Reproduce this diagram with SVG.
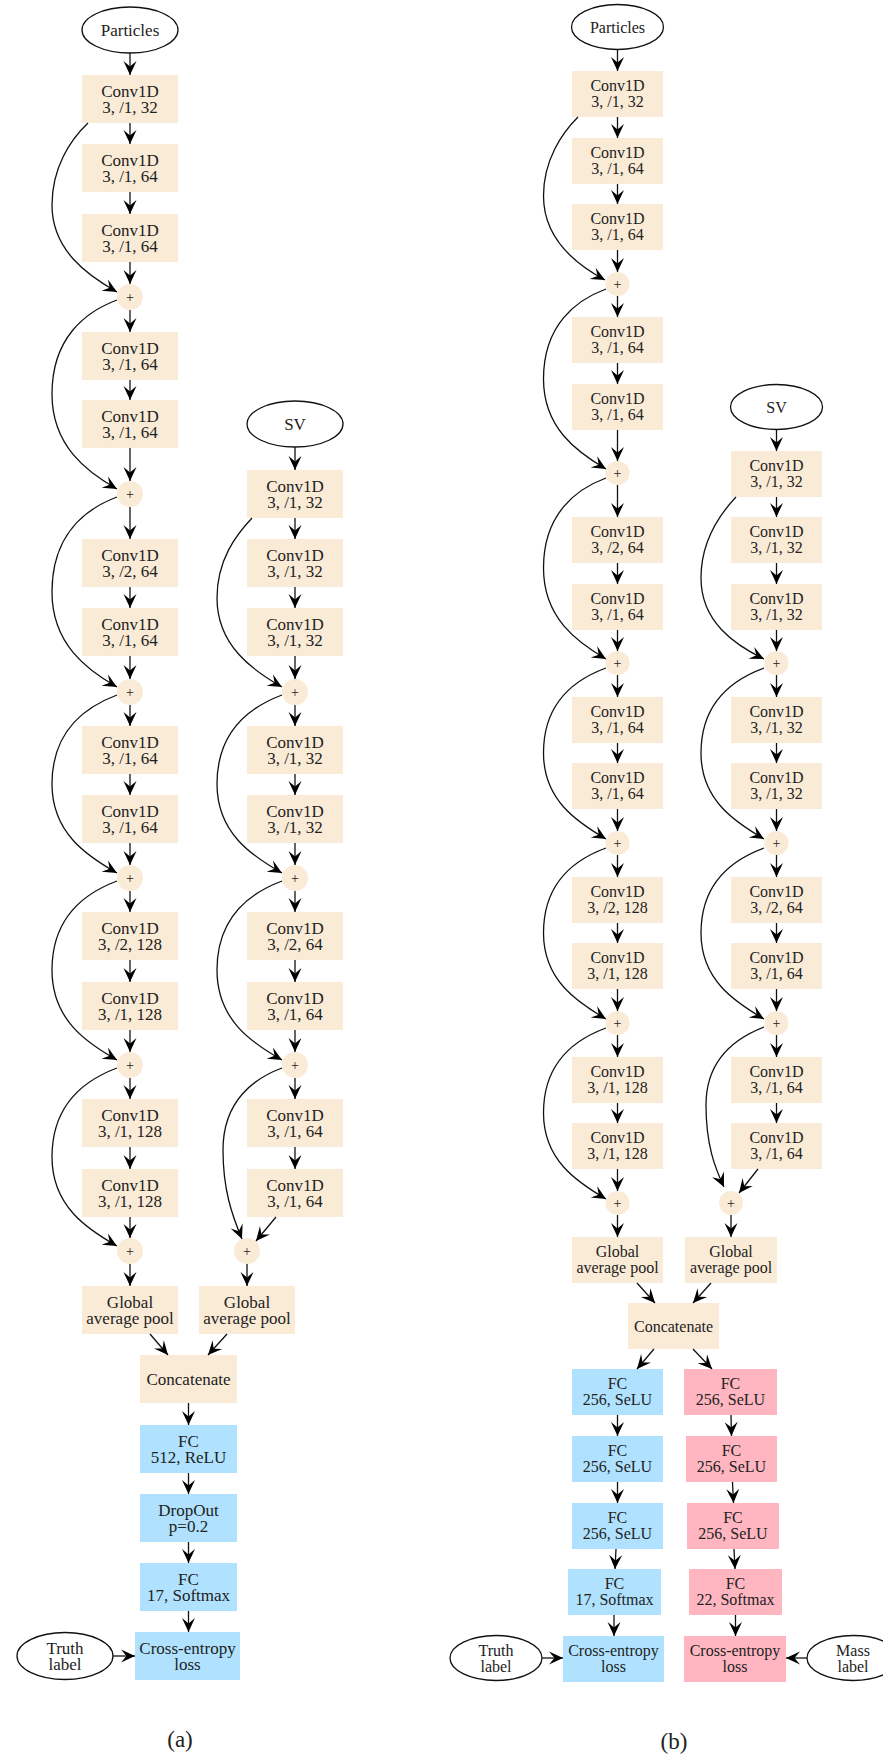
<svg xmlns="http://www.w3.org/2000/svg" width="883" height="1756" viewBox="0 0 883 1756">
<style>
  .bx{fill:#FAEBD7}
  .bl{fill:#B0E2FF}
  .pk{fill:#FFB6C1}
  .el{fill:#fff;stroke:#111;stroke-width:1.3}
  text{font-family:"Liberation Serif","Times New Roman",serif;fill:#222;text-anchor:middle}
  .a text{font-size:17px}
  .b text{font-size:16px}
  text.pl{font-size:14px}
  .e path{fill:none;stroke:#111;stroke-width:1.3;marker-end:url(#vee)}
  .cap{font-size:23px}
</style>
<defs>
  <marker id="vee" markerUnits="userSpaceOnUse" markerWidth="16" markerHeight="16" viewBox="-15 -8 16 16" refX="0" refY="0" orient="auto">
    <path d="M0,0 L-14,-6.5 L-8.5,0 L-14,6.5 Z" fill="#000"/>
  </marker>
</defs>
<rect width="883" height="1756" fill="#fff"/>

<!-- ===== panel (a) ===== -->
<g class="a">
  <g id="a_particles"><ellipse class="el" cx="130" cy="30" rx="48" ry="23"/><text x="130" y="36">Particles</text></g>
  <g id="a_c1"><rect class="bx" x="82" y="75" width="96" height="48"/><text x="130" y="96.5">Conv1D</text><text x="130" y="113">3, /1, 32</text></g>
  <g id="a_c2"><rect class="bx" x="82" y="144" width="96" height="48"/><text x="130" y="165.5">Conv1D</text><text x="130" y="182">3, /1, 64</text></g>
  <g id="a_c3"><rect class="bx" x="82" y="214" width="96" height="48"/><text x="130" y="235.5">Conv1D</text><text x="130" y="252">3, /1, 64</text></g>
  <g id="a_s1"><circle class="bx" cx="130" cy="297" r="13"/><text class="pl" x="130" y="301.5">+</text></g>
  <g id="a_c4"><rect class="bx" x="82" y="332" width="96" height="48"/><text x="130" y="353.5">Conv1D</text><text x="130" y="370">3, /1, 64</text></g>
  <g id="a_c5"><rect class="bx" x="82" y="400" width="96" height="48"/><text x="130" y="421.5">Conv1D</text><text x="130" y="438">3, /1, 64</text></g>
  <g id="a_s2"><circle class="bx" cx="130" cy="494" r="13"/><text class="pl" x="130" y="498.5">+</text></g>
  <g id="a_c6"><rect class="bx" x="82" y="539" width="96" height="48"/><text x="130" y="560.5">Conv1D</text><text x="130" y="577">3, /2, 64</text></g>
  <g id="a_c7"><rect class="bx" x="82" y="608" width="96" height="48"/><text x="130" y="629.5">Conv1D</text><text x="130" y="646">3, /1, 64</text></g>
  <g id="a_s3"><circle class="bx" cx="130" cy="692" r="13"/><text class="pl" x="130" y="696.5">+</text></g>
  <g id="a_c8"><rect class="bx" x="82" y="726" width="96" height="48"/><text x="130" y="747.5">Conv1D</text><text x="130" y="764">3, /1, 64</text></g>
  <g id="a_c9"><rect class="bx" x="82" y="795" width="96" height="48"/><text x="130" y="816.5">Conv1D</text><text x="130" y="833">3, /1, 64</text></g>
  <g id="a_s4"><circle class="bx" cx="130" cy="878" r="13"/><text class="pl" x="130" y="882.5">+</text></g>
  <g id="a_c10"><rect class="bx" x="82" y="912" width="96" height="48"/><text x="130" y="933.5">Conv1D</text><text x="130" y="950">3, /2, 128</text></g>
  <g id="a_c11"><rect class="bx" x="82" y="982" width="96" height="48"/><text x="130" y="1003.5">Conv1D</text><text x="130" y="1020">3, /1, 128</text></g>
  <g id="a_s5"><circle class="bx" cx="130" cy="1065" r="13"/><text class="pl" x="130" y="1069.5">+</text></g>
  <g id="a_c12"><rect class="bx" x="82" y="1099" width="96" height="48"/><text x="130" y="1120.5">Conv1D</text><text x="130" y="1137">3, /1, 128</text></g>
  <g id="a_c13"><rect class="bx" x="82" y="1169" width="96" height="48"/><text x="130" y="1190.5">Conv1D</text><text x="130" y="1207">3, /1, 128</text></g>
  <g id="a_s6"><circle class="bx" cx="130" cy="1251" r="13"/><text class="pl" x="130" y="1255.5">+</text></g>
  <g id="a_gap1"><rect class="bx" x="82" y="1286" width="96" height="48"/><text x="130" y="1307.5">Global</text><text x="130" y="1324">average pool</text></g>

  <g id="a_sv"><ellipse class="el" cx="295" cy="424" rx="48" ry="23"/><text x="295" y="430">SV</text></g>
  <g id="a_v1"><rect class="bx" x="247" y="470" width="96" height="48"/><text x="295" y="491.5">Conv1D</text><text x="295" y="508">3, /1, 32</text></g>
  <g id="a_v2"><rect class="bx" x="247" y="539" width="96" height="48"/><text x="295" y="560.5">Conv1D</text><text x="295" y="577">3, /1, 32</text></g>
  <g id="a_v3"><rect class="bx" x="247" y="608" width="96" height="48"/><text x="295" y="629.5">Conv1D</text><text x="295" y="646">3, /1, 32</text></g>
  <g id="a_t1"><circle class="bx" cx="295" cy="692" r="13"/><text class="pl" x="295" y="696.5">+</text></g>
  <g id="a_v4"><rect class="bx" x="247" y="726" width="96" height="48"/><text x="295" y="747.5">Conv1D</text><text x="295" y="764">3, /1, 32</text></g>
  <g id="a_v5"><rect class="bx" x="247" y="795" width="96" height="48"/><text x="295" y="816.5">Conv1D</text><text x="295" y="833">3, /1, 32</text></g>
  <g id="a_t2"><circle class="bx" cx="295" cy="878" r="13"/><text class="pl" x="295" y="882.5">+</text></g>
  <g id="a_v6"><rect class="bx" x="247" y="912" width="96" height="48"/><text x="295" y="933.5">Conv1D</text><text x="295" y="950">3, /2, 64</text></g>
  <g id="a_v7"><rect class="bx" x="247" y="982" width="96" height="48"/><text x="295" y="1003.5">Conv1D</text><text x="295" y="1020">3, /1, 64</text></g>
  <g id="a_t3"><circle class="bx" cx="295" cy="1065" r="13"/><text class="pl" x="295" y="1069.5">+</text></g>
  <g id="a_v8"><rect class="bx" x="247" y="1099" width="96" height="48"/><text x="295" y="1120.5">Conv1D</text><text x="295" y="1137">3, /1, 64</text></g>
  <g id="a_v9"><rect class="bx" x="247" y="1169" width="96" height="48"/><text x="295" y="1190.5">Conv1D</text><text x="295" y="1207">3, /1, 64</text></g>
  <g id="a_t4"><circle class="bx" cx="247" cy="1251" r="13"/><text class="pl" x="247" y="1255.5">+</text></g>
  <g id="a_gap2"><rect class="bx" x="199" y="1286" width="96" height="48"/><text x="247" y="1307.5">Global</text><text x="247" y="1324">average pool</text></g>

  <g id="a_concat"><rect class="bx" x="140" y="1355" width="97" height="48"/><text x="188.5" y="1385">Concatenate</text></g>
  <g id="a_fc1"><rect class="bl" x="140" y="1425" width="97" height="48"/><text x="188.5" y="1446.5">FC</text><text x="188.5" y="1463">512, ReLU</text></g>
  <g id="a_drop"><rect class="bl" x="140" y="1494" width="97" height="48"/><text x="188.5" y="1515.5">DropOut</text><text x="188.5" y="1532">p=0.2</text></g>
  <g id="a_fc2"><rect class="bl" x="140" y="1563" width="97" height="48"/><text x="188.5" y="1584.5">FC</text><text x="188.5" y="1601">17, Softmax</text></g>
  <g id="a_loss"><rect class="bl" x="135" y="1632" width="105" height="48"/><text x="187.5" y="1653.5">Cross-entropy</text><text x="187.5" y="1670">loss</text></g>
  <g id="a_truth"><ellipse class="el" cx="65" cy="1656" rx="48" ry="23.5"/><text x="65" y="1653.5">Truth</text><text x="65" y="1670">label</text></g>
</g>

<g id="a_edges" class="e">
  <path d="M130,53V75"/><path d="M130,123V144"/><path d="M130,192V214"/><path d="M130,262V284"/><path d="M130,310V332"/>
  <path d="M130,380V400"/><path d="M130,448V481"/><path d="M130,507V539"/><path d="M130,587V608"/><path d="M130,656V679"/>
  <path d="M130,705V726"/><path d="M130,774V795"/><path d="M130,843V865"/><path d="M130,891V912"/><path d="M130,960V982"/>
  <path d="M130,1030V1052"/><path d="M130,1078V1099"/><path d="M130,1147V1169"/><path d="M130,1217V1238"/><path d="M130,1264V1286"/>
  <path d="M150,1334L168,1355"/><path d="M227,1334L208,1355"/>
  <path d="M188.5,1403V1425"/><path d="M188.5,1473V1494"/><path d="M188.5,1542V1563"/><path d="M188.5,1611V1632"/>
  <path d="M113,1656H135"/>
  <path d="M295,447V470"/><path d="M295,518V539"/><path d="M295,587V608"/><path d="M295,656V679"/><path d="M295,705V726"/><path d="M295,774V795"/><path d="M295,843V865"/><path d="M295,891V912"/><path d="M295,960V982"/><path d="M295,1030V1052"/><path d="M295,1078V1099"/><path d="M295,1147V1169"/>
  <path d="M276,1217L256,1241"/><path d="M247,1264V1286"/>
  <!-- skip connections -->
  <path d="M88,123C70,140 52,168 52,205C52,250 87,275 117,292"/>
  <path d="M117,300C85,312 52,338 52,394C52,446 87,472 117,489"/>
  <path d="M117,497C85,509 52,535 52,592C52,644 87,670 117,687"/>
  <path d="M117,695C85,707 52,731 52,784C52,833 87,856 117,873"/>
  <path d="M117,881C85,893 52,917 52,970C52,1020 87,1043 117,1060"/>
  <path d="M117,1068C85,1080 52,1104 52,1157C52,1206 87,1229 117,1246"/>
  <path d="M252,518C236,535 217,560 217,598C217,645 252,670 282,687"/>
  <path d="M282,695C250,707 217,731 217,784C217,833 252,856 282,873"/>
  <path d="M282,881C250,893 217,917 217,970C217,1020 252,1043 282,1060"/>
  <path d="M282,1068C255,1078 223,1100 223,1150C223,1190 232,1215 242,1239"/>
</g>
<text class="cap" x="180" y="1747">(a)</text>

<!-- ===== panel (b) ===== -->
<g class="b">
  <g id="b_particles"><ellipse class="el" cx="617.5" cy="27" rx="46" ry="22.5"/><text x="617.5" y="32.5">Particles</text></g>
  <g id="b_c1"><rect class="bx" x="572" y="71" width="91" height="46"/><text x="617.5" y="91">Conv1D</text><text x="617.5" y="107">3, /1, 32</text></g>
  <g id="b_c2"><rect class="bx" x="572" y="138" width="91" height="46"/><text x="617.5" y="158">Conv1D</text><text x="617.5" y="174">3, /1, 64</text></g>
  <g id="b_c3"><rect class="bx" x="572" y="204" width="91" height="46"/><text x="617.5" y="224">Conv1D</text><text x="617.5" y="240">3, /1, 64</text></g>
  <g id="b_s1"><circle class="bx" cx="617.5" cy="284" r="12"/><text class="pl" x="617.5" y="288.5">+</text></g>
  <g id="b_c4"><rect class="bx" x="572" y="317" width="91" height="46"/><text x="617.5" y="337">Conv1D</text><text x="617.5" y="353">3, /1, 64</text></g>
  <g id="b_c5"><rect class="bx" x="572" y="384" width="91" height="46"/><text x="617.5" y="404">Conv1D</text><text x="617.5" y="420">3, /1, 64</text></g>
  <g id="b_s2"><circle class="bx" cx="617.5" cy="473" r="12"/><text class="pl" x="617.5" y="477.5">+</text></g>
  <g id="b_c6"><rect class="bx" x="572" y="517" width="91" height="46"/><text x="617.5" y="537">Conv1D</text><text x="617.5" y="553">3, /2, 64</text></g>
  <g id="b_c7"><rect class="bx" x="572" y="584" width="91" height="46"/><text x="617.5" y="604">Conv1D</text><text x="617.5" y="620">3, /1, 64</text></g>
  <g id="b_s3"><circle class="bx" cx="617.5" cy="663" r="12"/><text class="pl" x="617.5" y="667.5">+</text></g>
  <g id="b_c8"><rect class="bx" x="572" y="697" width="91" height="46"/><text x="617.5" y="717">Conv1D</text><text x="617.5" y="733">3, /1, 64</text></g>
  <g id="b_c9"><rect class="bx" x="572" y="763" width="91" height="46"/><text x="617.5" y="783">Conv1D</text><text x="617.5" y="799">3, /1, 64</text></g>
  <g id="b_s4"><circle class="bx" cx="617.5" cy="843" r="12"/><text class="pl" x="617.5" y="847.5">+</text></g>
  <g id="b_c10"><rect class="bx" x="572" y="877" width="91" height="46"/><text x="617.5" y="897">Conv1D</text><text x="617.5" y="913">3, /2, 128</text></g>
  <g id="b_c11"><rect class="bx" x="572" y="943" width="91" height="46"/><text x="617.5" y="963">Conv1D</text><text x="617.5" y="979">3, /1, 128</text></g>
  <g id="b_s5"><circle class="bx" cx="617.5" cy="1023" r="12"/><text class="pl" x="617.5" y="1027.5">+</text></g>
  <g id="b_c12"><rect class="bx" x="572" y="1057" width="91" height="46"/><text x="617.5" y="1077">Conv1D</text><text x="617.5" y="1093">3, /1, 128</text></g>
  <g id="b_c13"><rect class="bx" x="572" y="1123" width="91" height="46"/><text x="617.5" y="1143">Conv1D</text><text x="617.5" y="1159">3, /1, 128</text></g>
  <g id="b_s6"><circle class="bx" cx="617.5" cy="1203" r="12"/><text class="pl" x="617.5" y="1207.5">+</text></g>
  <g id="b_gap1"><rect class="bx" x="572" y="1237" width="91" height="46"/><text x="617.5" y="1257">Global</text><text x="617.5" y="1273">average pool</text></g>

  <g id="b_sv"><ellipse class="el" cx="776.5" cy="407" rx="46" ry="22.5"/><text x="776.5" y="412.5">SV</text></g>
  <g id="b_v1"><rect class="bx" x="731" y="451" width="91" height="46"/><text x="776.5" y="471">Conv1D</text><text x="776.5" y="487">3, /1, 32</text></g>
  <g id="b_v2"><rect class="bx" x="731" y="517" width="91" height="46"/><text x="776.5" y="537">Conv1D</text><text x="776.5" y="553">3, /1, 32</text></g>
  <g id="b_v3"><rect class="bx" x="731" y="584" width="91" height="46"/><text x="776.5" y="604">Conv1D</text><text x="776.5" y="620">3, /1, 32</text></g>
  <g id="b_t1"><circle class="bx" cx="776.5" cy="663" r="12"/><text class="pl" x="776.5" y="667.5">+</text></g>
  <g id="b_v4"><rect class="bx" x="731" y="697" width="91" height="46"/><text x="776.5" y="717">Conv1D</text><text x="776.5" y="733">3, /1, 32</text></g>
  <g id="b_v5"><rect class="bx" x="731" y="763" width="91" height="46"/><text x="776.5" y="783">Conv1D</text><text x="776.5" y="799">3, /1, 32</text></g>
  <g id="b_t2"><circle class="bx" cx="776.5" cy="843" r="12"/><text class="pl" x="776.5" y="847.5">+</text></g>
  <g id="b_v6"><rect class="bx" x="731" y="877" width="91" height="46"/><text x="776.5" y="897">Conv1D</text><text x="776.5" y="913">3, /2, 64</text></g>
  <g id="b_v7"><rect class="bx" x="731" y="943" width="91" height="46"/><text x="776.5" y="963">Conv1D</text><text x="776.5" y="979">3, /1, 64</text></g>
  <g id="b_t3"><circle class="bx" cx="776.5" cy="1023" r="12"/><text class="pl" x="776.5" y="1027.5">+</text></g>
  <g id="b_v8"><rect class="bx" x="731" y="1057" width="91" height="46"/><text x="776.5" y="1077">Conv1D</text><text x="776.5" y="1093">3, /1, 64</text></g>
  <g id="b_v9"><rect class="bx" x="731" y="1123" width="91" height="46"/><text x="776.5" y="1143">Conv1D</text><text x="776.5" y="1159">3, /1, 64</text></g>
  <g id="b_t4"><circle class="bx" cx="731" cy="1203" r="12"/><text class="pl" x="731" y="1207.5">+</text></g>
  <g id="b_gap2"><rect class="bx" x="685" y="1237" width="92" height="46"/><text x="731" y="1257">Global</text><text x="731" y="1273">average pool</text></g>

  <g id="b_concat"><rect class="bx" x="628" y="1303" width="91" height="46"/><text x="673.5" y="1331.5">Concatenate</text></g>

  <g id="b_fc1"><rect class="bl" x="572" y="1369" width="91" height="46"/><text x="617.5" y="1389">FC</text><text x="617.5" y="1405">256, SeLU</text></g>
  <g id="b_fc2"><rect class="bl" x="572" y="1436" width="91" height="46"/><text x="617.5" y="1456">FC</text><text x="617.5" y="1472">256, SeLU</text></g>
  <g id="b_fc3"><rect class="bl" x="572" y="1503" width="91" height="46"/><text x="617.5" y="1523">FC</text><text x="617.5" y="1539">256, SeLU</text></g>
  <g id="b_fc4"><rect class="bl" x="568" y="1569" width="93" height="46"/><text x="614.5" y="1589">FC</text><text x="614.5" y="1605">17, Softmax</text></g>
  <g id="b_loss1"><rect class="bl" x="563" y="1636" width="101" height="46"/><text x="613.5" y="1656">Cross-entropy</text><text x="613.5" y="1672">loss</text></g>
  <g id="b_truth"><ellipse class="el" cx="496" cy="1658" rx="46" ry="22.5"/><text x="496" y="1656">Truth</text><text x="496" y="1672">label</text></g>

  <g id="b_mc1"><rect class="pk" x="684" y="1369" width="93" height="46"/><text x="730.5" y="1389">FC</text><text x="730.5" y="1405">256, SeLU</text></g>
  <g id="b_mc2"><rect class="pk" x="686" y="1436" width="91" height="46"/><text x="731.5" y="1456">FC</text><text x="731.5" y="1472">256, SeLU</text></g>
  <g id="b_mc3"><rect class="pk" x="687" y="1503" width="92" height="46"/><text x="733" y="1523">FC</text><text x="733" y="1539">256, SeLU</text></g>
  <g id="b_mc4"><rect class="pk" x="689" y="1569" width="93" height="46"/><text x="735.5" y="1589">FC</text><text x="735.5" y="1605">22, Softmax</text></g>
  <g id="b_loss2"><rect class="pk" x="684" y="1636" width="102" height="46"/><text x="735" y="1656">Cross-entropy</text><text x="735" y="1672">loss</text></g>
  <g id="b_mass"><ellipse class="el" cx="853" cy="1658" rx="46" ry="22.5"/><text x="853" y="1656">Mass</text><text x="853" y="1672">label</text></g>
</g>

<g id="b_edges" class="e">
  <path d="M617.5,49.5V71"/><path d="M617.5,117V138"/><path d="M617.5,184V204"/><path d="M617.5,250V272"/><path d="M617.5,296V317"/>
  <path d="M617.5,363V384"/><path d="M617.5,430V461"/><path d="M617.5,485V517"/><path d="M617.5,563V584"/><path d="M617.5,630V651"/>
  <path d="M617.5,675V697"/><path d="M617.5,743V763"/><path d="M617.5,809V831"/><path d="M617.5,855V877"/><path d="M617.5,923V943"/>
  <path d="M617.5,989V1011"/><path d="M617.5,1035V1057"/><path d="M617.5,1103V1123"/><path d="M617.5,1169V1191"/><path d="M617.5,1215V1237"/>
  <path d="M637,1283L655,1303"/><path d="M711,1283L693,1303"/>
  <path d="M654,1349L637,1369"/><path d="M693,1349L712,1369"/>
  <path d="M617.5,1415V1436"/><path d="M617.5,1482V1503"/><path d="M616,1549L615,1569"/><path d="M614,1615V1636"/>
  <path d="M731,1415L731.5,1436"/><path d="M732.5,1482L733.5,1503"/><path d="M734,1549L735,1569"/><path d="M735.5,1615V1636"/>
  <path d="M542,1658H563"/><path d="M807,1658H786"/>
  <path d="M776.5,429.5V451"/><path d="M776.5,497V517"/><path d="M776.5,563V584"/><path d="M776.5,630V651"/><path d="M776.5,675V697"/><path d="M776.5,743V763"/><path d="M776.5,809V831"/><path d="M776.5,855V877"/><path d="M776.5,923V943"/><path d="M776.5,989V1011"/><path d="M776.5,1035V1057"/><path d="M776.5,1103V1123"/>
  <path d="M758,1169L739,1193"/><path d="M731,1215V1237"/>
  <!-- skip connections -->
  <path d="M578,117C562,133 543.5,160 543.5,196C543.5,240 577,265 605,280"/>
  <path d="M606,289C576,300 543.5,325 543.5,379C543.5,428 577,452 606,469"/>
  <path d="M606,478C576,489 543.5,514 543.5,568C543.5,618 577,642 606,659"/>
  <path d="M606,668C576,679 543.5,702 543.5,753C543.5,800 577,822 606,839"/>
  <path d="M606,848C576,859 543.5,882 543.5,933C543.5,980 577,1002 606,1019"/>
  <path d="M606,1028C576,1039 543.5,1062 543.5,1113C543.5,1160 577,1182 606,1199"/>
  <path d="M736,497C720,514 701,540 701,578C701,622 735,645 764,659"/>
  <path d="M764,668C734,679 701,702 701,753C701,800 735,822 764,839"/>
  <path d="M764,848C734,859 701,882 701,933C701,980 735,1002 764,1019"/>
  <path d="M764,1027C738,1037 706,1058 706,1105C706,1145 715,1168 724,1187"/>
</g>
<text class="cap" x="674" y="1749">(b)</text>
</svg>
